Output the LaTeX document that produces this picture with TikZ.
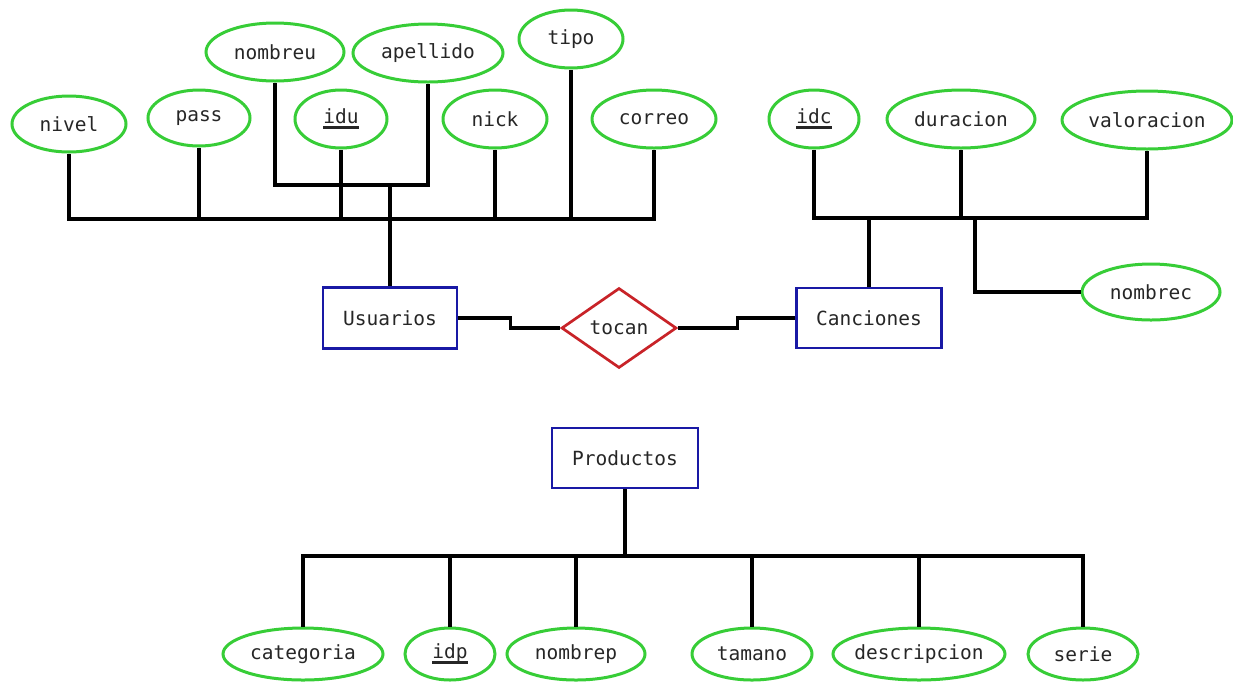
\documentclass[tikz,border=0pt]{standalone}
\usepackage{fontspec}
\setmonofont{DejaVu Sans Mono}
\usetikzlibrary{shapes.geometric}
\definecolor{verdeat}{RGB}{55,205,55}
\definecolor{azulent}{RGB}{25,25,165}
\definecolor{rojorel}{RGB}{200,35,40}
\newcommand{\clave}[1]{\setbox0\hbox{#1}\rlap{\rule[-5pt]{\wd0}{2.8pt}}\box0}
\begin{document}
\begin{tikzpicture}[x=1pt,y=-1pt,
	every node/.style={font=\ttfamily\fontsize{19.5}{21}\selectfont, text=black!85},
	atrib/.style={ellipse, draw=verdeat, line width=3pt, inner xsep=-12pt, inner ysep=0pt},
	entidad/.style={rectangle, draw=azulent, line width=2.7pt, inner sep=0pt},
	relacion/.style={diamond, draw=rojorel, line width=2.7pt, inner sep=0pt, aspect=1.44},
	linea/.style={line width=3.2pt, black}]
		\useasboundingbox (0,0) rectangle (1233,681);
		\node[atrib, minimum width=114, minimum height=56] (nivel) at (69,124) {nivel};
		\node[atrib, minimum width=102, minimum height=56] (pass) at (199,118) {pass};
		\node[atrib, minimum width=92, minimum height=58] (idu) at (341,119) {\clave{idu}};
		\node[atrib, minimum width=138, minimum height=58] (nombreu) at (275,52) {nombreu};
		\node[atrib, minimum width=150, minimum height=58] (apellido) at (428,53) {apellido};
		\node[atrib, minimum width=104, minimum height=58] (tipo) at (571,39) {tipo};
		\node[atrib, minimum width=104, minimum height=58] (nick) at (495,119) {nick};
		\node[atrib, minimum width=124, minimum height=58] (correo) at (654,119) {correo};
		\node[atrib, minimum width=90, minimum height=58] (idc) at (814,119) {\clave{idc}};
		\node[atrib, minimum width=148, minimum height=58] (duracion) at (961,119) {duracion};
		\node[atrib, minimum width=170, minimum height=58] (valoracion) at (1147,120) {valoracion};
		\node[atrib, minimum width=138, minimum height=56] (nombrec) at (1151,292) {nombrec};
		\node[entidad, minimum width=134, minimum height=61] (usuarios) at (390,318) {Usuarios};
		\node[entidad, minimum width=145, minimum height=60] (canciones) at (869,318) {Canciones};
		\node[relacion, minimum width=115, minimum height=80] (tocan) at (619,328) {tocan};
		\node[entidad, minimum width=146, minimum height=60] (productos) at (625,458) {Productos};
		\node[atrib, minimum width=160, minimum height=52] (categoria) at (303,654) {categoria};
		\node[atrib, minimum width=90, minimum height=52] (idp) at (450,654) {\clave{idp}};
		\node[atrib, minimum width=138, minimum height=52] (nombrep) at (576,654) {nombrep};
		\node[atrib, minimum width=120, minimum height=52] (tamano) at (752,654) {tamano};
		\node[atrib, minimum width=172, minimum height=52] (descripcion) at (919,654) {descripcion};
		\node[atrib, minimum width=110, minimum height=52] (serie) at (1083,654) {serie};
		\coordinate (ubus) at (390,219);
		\coordinate (ubus2) at (390,185);
		\coordinate (cbus) at (869,218);
		\coordinate (cbus2) at (975,218);
		\coordinate (pbus) at (625,556);
		\draw[linea] (nivel.south) |- (ubus) -| (correo.south);
		\foreach \a in {pass,idu,nick,tipo}
			\draw[linea] (\a.south) -- (\a.south |- ubus);
		\draw[linea] (nombreu.south) |- (ubus2) -| (apellido.south);
		\draw[linea] (ubus2) -- (usuarios.north);
		\draw[linea] (idc.south) |- (cbus) -| (valoracion.south);
		\draw[linea] (duracion.south) -- (duracion.south |- cbus);
		\draw[linea] (cbus) -- (canciones.north);
		\draw[linea] (cbus2) |- (nombrec.west);
		\draw[linea] (usuarios.east) -- ++(52,0) |- (tocan.west);
		\draw[linea] (tocan.east) -- ++(60,0) |- (canciones.west);
		\draw[linea] (productos.south) -- (pbus);
		\draw[linea] (categoria.north) |- (pbus) -| (serie.north);
		\foreach \a in {idp,nombrep,tamano,descripcion}
			\draw[linea] (\a.north) -- (\a.north |- pbus);
\end{tikzpicture}
\end{document}
